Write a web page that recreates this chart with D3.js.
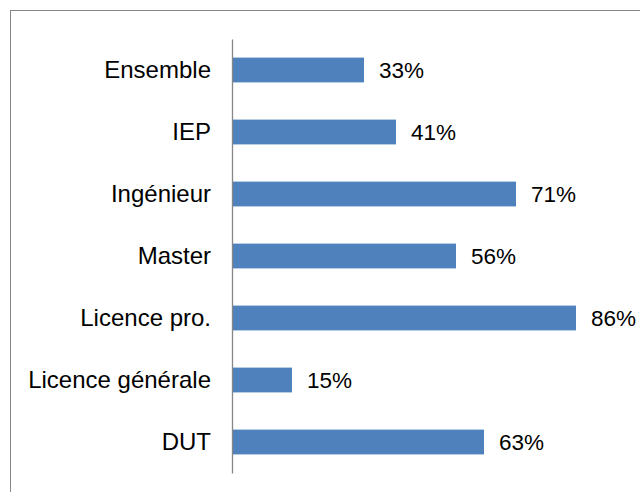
<!DOCTYPE html>
<html>
<head>
<meta charset="utf-8">
<script src="https://cdn.jsdelivr.net/npm/d3@7"></script>
<style>
  body { margin: 0; background: #fff; }
  text { font-family: "Liberation Sans", Arial, sans-serif; }
</style>
</head>
<body>
<div id="chart"></div>
<script>
// data
const categories = ["Ensemble", "IEP", "Ingénieur", "Master", "Licence pro.", "Licence générale", "DUT"];
const values = [33, 41, 71, 56, 86, 15, 63];

const width = 640, height = 492;
const svg = d3.select("#chart").append("svg").attr("width", width).attr("height", height);

// chart border (runs off the right and bottom edge)
svg.append("rect")
    .attr("x", 10.5).attr("y", 10.5)
    .attr("width", 700).attr("height", 600)
    .attr("fill", "none").attr("stroke", "#878787").attr("stroke-width", 1);

const x = d3.scaleLinear().domain([0, 100]).range([232, 632]);
const y = d3.scaleBand().domain(categories).range([39, 473]).paddingInner(0.6).paddingOuter(0.3);

svg.selectAll("rect.bar")
    .data(categories)
    .enter()
    .append("rect")
    .attr("class", "bar")
    .attr("x", x(0))
    .attr("y", d => y(d))
    .attr("width", (d, i) => x(values[i]) - x(0))
    .attr("height", y.bandwidth())
    .attr("fill", "#4F81BD");

// value labels
svg.selectAll("text.val")
    .data(categories)
    .enter()
    .append("text")
    .attr("class", "val")
    .attr("x", (d, i) => x(values[i]) + 15)
    .attr("y", d => y(d) + y.bandwidth() / 2)
    .attr("dy", "0.35em")
    .attr("font-size", 22.5)
    .attr("fill", "#000")
    .text((d, i) => values[i] + "%");

// category axis
const axis = svg.append("g")
    .attr("transform", `translate(${x(0)},0)`)
    .call(d3.axisLeft(y).tickSize(0).tickPadding(21));
axis.select(".domain").attr("stroke", "#878787").attr("stroke-width", 1.3);
axis.selectAll("text").attr("font-size", 24).attr("fill", "#000")
    .style("font-family", "'Liberation Sans', Arial, sans-serif");
</script>
</body>
</html>
